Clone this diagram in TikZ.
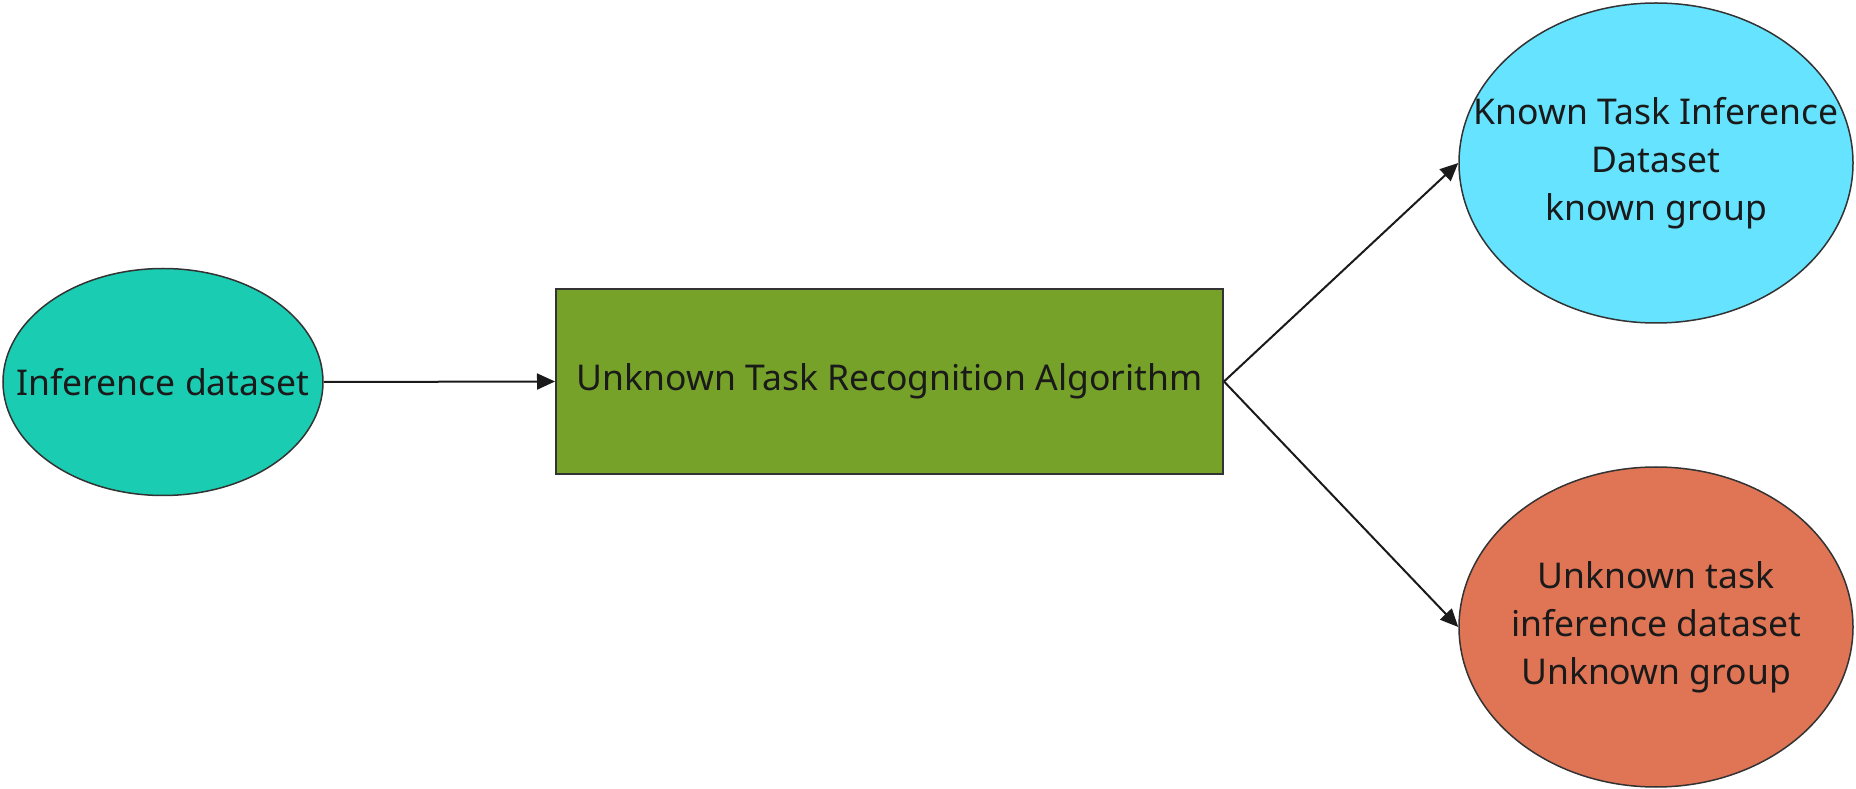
\documentclass[tikz,border=0pt]{standalone}
\usepackage{fontspec}
\setmainfont{Noto Sans}
\usepackage{tikz}
\usetikzlibrary{shapes.geometric, arrows.meta}

\definecolor{inferfill}{HTML}{1ACCB1}
\definecolor{algofill}{HTML}{76A22A}
\definecolor{knownfill}{HTML}{66E3FF}
\definecolor{unknownfill}{HTML}{E07556}
\definecolor{edgegray}{HTML}{333333}
\definecolor{inkblack}{HTML}{1A1A1A}

\tikzset{
    dataset/.style={ellipse, draw=edgegray, line width=1.5pt, inner sep=0pt},
    settext/.style={text=inkblack, align=center, font=\fontsize{35.5}{48}\selectfont},
    algo/.style={rectangle, draw=edgegray, line width=2pt, inner sep=0pt,
        fill=algofill, settext},
    flow/.style={draw=inkblack, line width=2pt, -{Triangle[length=18pt, width=16pt]}}
}

\begin{document}
\begin{tikzpicture}[x=1pt, y=1pt]
        \useasboundingbox (0,0) rectangle (1856,788);

        \node[dataset, fill=inferfill, minimum width=320pt, minimum height=227pt,
            label={[settext]center:Inference dataset}] (infer) at (163,406) {};
        \node[algo, minimum width=667pt, minimum height=185pt] (algo) at (889.5,406.5) {Unknown Task Recognition Algorithm};
        \node[dataset, fill=knownfill, minimum width=394pt, minimum height=320pt,
            label={[settext]center:Known Task Inference\\Dataset\\known group}] (known) at (1656,625) {};
        \node[dataset, fill=unknownfill, minimum width=394pt, minimum height=320pt,
            label={[settext]center:Unknown task\\inference dataset\\Unknown group}] (unknown) at (1656,161) {};

        \draw
            (infer.east) edge[flow] (algo.west)
            (algo.east) edge[flow] (known.west)
            (algo.east) edge[flow] (unknown.west)
            ;
    \end{tikzpicture}
\end{document}
